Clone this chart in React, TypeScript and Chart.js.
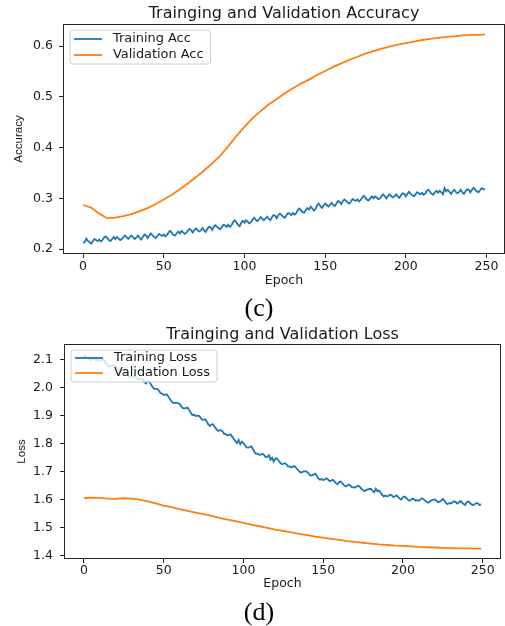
import React, { useEffect, useRef } from "react";
import { Chart, registerables } from "chart.js";

Chart.register(...registerables);

// ---------------- data ----------------
const trainAcc = [
  0.212, 0.214, 0.221, 0.216, 0.214, 0.211, 0.215, 0.220, 0.218, 0.216,
  0.219, 0.215, 0.218, 0.223, 0.225, 0.222, 0.218, 0.216, 0.220, 0.224,
  0.220, 0.224, 0.221, 0.218, 0.220, 0.224, 0.227, 0.223, 0.220, 0.224,
  0.227, 0.223, 0.220, 0.223, 0.227, 0.222, 0.219, 0.224, 0.229, 0.227,
  0.222, 0.227, 0.231, 0.227, 0.224, 0.222, 0.226, 0.230, 0.228, 0.226,
  0.229, 0.225, 0.228, 0.233, 0.236, 0.232, 0.228, 0.227, 0.231, 0.235,
  0.231, 0.236, 0.233, 0.230, 0.232, 0.237, 0.240, 0.237, 0.233, 0.238,
  0.241, 0.237, 0.235, 0.237, 0.242, 0.237, 0.234, 0.240, 0.244, 0.243,
  0.238, 0.244, 0.247, 0.244, 0.241, 0.239, 0.244, 0.248, 0.247, 0.244,
  0.248, 0.244, 0.247, 0.254, 0.257, 0.253, 0.248, 0.245, 0.252, 0.256,
  0.252, 0.257, 0.254, 0.251, 0.253, 0.258, 0.262, 0.258, 0.255, 0.259,
  0.263, 0.260, 0.257, 0.260, 0.264, 0.260, 0.257, 0.263, 0.267, 0.266,
  0.261, 0.267, 0.270, 0.267, 0.264, 0.262, 0.267, 0.271, 0.270, 0.267,
  0.271, 0.268, 0.271, 0.277, 0.280, 0.277, 0.273, 0.272, 0.277, 0.281,
  0.278, 0.284, 0.280, 0.276, 0.279, 0.286, 0.290, 0.285, 0.281, 0.286,
  0.290, 0.287, 0.284, 0.287, 0.291, 0.287, 0.285, 0.290, 0.295, 0.293,
  0.289, 0.295, 0.298, 0.295, 0.292, 0.290, 0.294, 0.299, 0.297, 0.295,
  0.298, 0.294, 0.297, 0.302, 0.305, 0.301, 0.297, 0.296, 0.300, 0.304,
  0.300, 0.304, 0.302, 0.298, 0.300, 0.305, 0.308, 0.304, 0.300, 0.305,
  0.308, 0.304, 0.302, 0.304, 0.308, 0.304, 0.301, 0.306, 0.310, 0.309,
  0.304, 0.309, 0.313, 0.309, 0.306, 0.304, 0.308, 0.312, 0.310, 0.308,
  0.311, 0.307, 0.309, 0.315, 0.317, 0.313, 0.309, 0.307, 0.312, 0.315,
  0.311, 0.315, 0.312, 0.308, 0.320, 0.314, 0.317, 0.313, 0.309, 0.314,
  0.317, 0.313, 0.310, 0.313, 0.317, 0.312, 0.309, 0.314, 0.318, 0.317,
  0.312, 0.317, 0.321, 0.317, 0.314, 0.312, 0.316, 0.320, 0.318, 0.318,
];

const trainLoss = [
  2.112, 2.114, 2.108, 2.103, 2.099, 2.102, 2.106, 2.103, 2.098, 2.100,
  2.098, 2.100, 2.102, 2.096, 2.088, 2.081, 2.076, 2.078, 2.080, 2.080,
  2.078, 2.070, 2.063, 2.062, 2.064, 2.066, 2.057, 2.047, 2.040, 2.042,
  2.037, 2.039, 2.042, 2.037, 2.030, 2.032, 2.035, 2.029, 2.020, 2.016,
  2.024, 2.023, 2.013, 2.004, 1.997, 1.997, 1.997, 1.991, 1.982, 1.980,
  1.975, 1.976, 1.977, 1.969, 1.960, 1.952, 1.946, 1.947, 1.947, 1.946,
  1.943, 1.935, 1.928, 1.926, 1.928, 1.930, 1.921, 1.911, 1.903, 1.905,
  1.900, 1.900, 1.901, 1.895, 1.886, 1.887, 1.888, 1.880, 1.870, 1.864,
  1.870, 1.870, 1.861, 1.853, 1.847, 1.848, 1.849, 1.844, 1.836, 1.835,
  1.831, 1.832, 1.834, 1.826, 1.818, 1.810, 1.803, 1.814, 1.799, 1.808,
  1.803, 1.795, 1.788, 1.787, 1.789, 1.791, 1.781, 1.771, 1.764, 1.766,
  1.761, 1.762, 1.765, 1.760, 1.753, 1.754, 1.760, 1.744, 1.751, 1.737,
  1.748, 1.748, 1.741, 1.733, 1.728, 1.729, 1.731, 1.727, 1.719, 1.720,
  1.716, 1.719, 1.721, 1.715, 1.708, 1.702, 1.697, 1.700, 1.702, 1.702,
  1.700, 1.693, 1.687, 1.688, 1.691, 1.694, 1.686, 1.677, 1.672, 1.675,
  1.671, 1.673, 1.677, 1.673, 1.667, 1.669, 1.672, 1.667, 1.659, 1.656,
  1.664, 1.666, 1.659, 1.653, 1.648, 1.651, 1.655, 1.651, 1.645, 1.646,
  1.644, 1.648, 1.651, 1.646, 1.640, 1.635, 1.631, 1.635, 1.638, 1.639,
  1.639, 1.632, 1.627, 1.640, 1.631, 1.634, 1.626, 1.618, 1.612, 1.616,
  1.612, 1.615, 1.619, 1.616, 1.610, 1.613, 1.616, 1.611, 1.604, 1.601,
  1.610, 1.612, 1.607, 1.601, 1.597, 1.601, 1.605, 1.602, 1.597, 1.599,
  1.597, 1.602, 1.606, 1.602, 1.597, 1.593, 1.590, 1.595, 1.599, 1.601,
  1.602, 1.597, 1.592, 1.594, 1.598, 1.603, 1.597, 1.589, 1.585, 1.589,
  1.587, 1.591, 1.595, 1.593, 1.587, 1.591, 1.596, 1.591, 1.585, 1.582,
  1.592, 1.595, 1.589, 1.584, 1.581, 1.585, 1.589, 1.587, 1.582, 1.584,
];

const valEpochs = [
  0, 5, 10, 15, 20, 25, 30, 35, 40, 45,
  50, 55, 60, 65, 70, 75, 80, 85, 90, 95,
  100, 105, 110, 115, 120, 125, 130, 135, 140, 145,
  150, 155, 160, 165, 170, 175, 180, 185, 190, 195,
  200, 205, 210, 215, 220, 225, 230, 235, 240, 245, 249,
];

const valAcc = [
  0.287, 0.282, 0.270, 0.261, 0.262, 0.265, 0.269, 0.275, 0.281, 0.289,
  0.298, 0.307, 0.318, 0.330, 0.342, 0.355, 0.369, 0.384, 0.403, 0.423,
  0.441, 0.458, 0.472, 0.485, 0.496, 0.507, 0.517, 0.526, 0.534, 0.543,
  0.551, 0.559, 0.566, 0.573, 0.579, 0.585, 0.590, 0.595, 0.599, 0.603,
  0.606, 0.609, 0.612, 0.614, 0.616, 0.618, 0.619, 0.621, 0.622, 0.622, 0.623,
];

const valLoss = [
  1.606, 1.608, 1.607, 1.605, 1.604, 1.606, 1.605, 1.601, 1.595, 1.588,
  1.580, 1.574, 1.567, 1.561, 1.555, 1.549, 1.543, 1.536, 1.530, 1.524,
  1.518, 1.512, 1.506, 1.500, 1.494, 1.489, 1.484, 1.479, 1.474, 1.469,
  1.465, 1.461, 1.457, 1.453, 1.450, 1.447, 1.444, 1.441, 1.439, 1.437,
  1.436, 1.434, 1.432, 1.431, 1.430, 1.429, 1.428, 1.427, 1.427, 1.426, 1.426,
];

const xTicks = [0, 50, 100, 150, 200, 250];
const accTicks = [0.2, 0.3, 0.4, 0.5, 0.6];
const lossTicks = [1.4, 1.5, 1.6, 1.7, 1.8, 1.9, 2.0, 2.1];

// ---------------- styling ----------------
const BLUE = "#1f77b4";
const ORANGE = "#ff7f0e";
const TEXT = "#1a1a1a";
const SANS = "'DejaVu Sans', 'Noto Sans', sans-serif";

const mplPlugin = {
  id: "mpl",
  afterDatasetsDraw(chart: any, _args: any, opts: any) {
    const { ctx, chartArea: a } = chart;
    ctx.save();
    // axes frame
    ctx.strokeStyle = "#262626";
    ctx.lineWidth = 1;
    ctx.strokeRect(a.left + 0.5, a.top + 0.5, a.right - a.left - 1, a.bottom - a.top - 1);

    // title
    ctx.font = `16px ${SANS}`;
    ctx.fillStyle = TEXT;
    ctx.textAlign = "center";
    ctx.textBaseline = "middle";
    ctx.fillText(opts.title, (a.left + a.right) / 2, opts.titleY);

    // legend
    ctx.font = `12.9px ${SANS}`;
    const items = chart.data.datasets.map((d: any) => ({ text: d.label, color: d.borderColor }));
    const tw = Math.max(...items.map((it: any) => ctx.measureText(it.text).width));
    const bx = a.left + opts.dx;
    const by = a.top + opts.dy;
    const bw = opts.textX + tw + opts.padR;
    const bh = opts.height;
    const r = 3;
    ctx.beginPath();
    ctx.moveTo(bx + r, by);
    ctx.lineTo(bx + bw - r, by);
    ctx.quadraticCurveTo(bx + bw, by, bx + bw, by + r);
    ctx.lineTo(bx + bw, by + bh - r);
    ctx.quadraticCurveTo(bx + bw, by + bh, bx + bw - r, by + bh);
    ctx.lineTo(bx + r, by + bh);
    ctx.quadraticCurveTo(bx, by + bh, bx, by + bh - r);
    ctx.lineTo(bx, by + r);
    ctx.quadraticCurveTo(bx, by, bx + r, by);
    ctx.closePath();
    ctx.fillStyle = "rgba(255,255,255,0.8)";
    ctx.fill();
    ctx.strokeStyle = "#d0d0d0";
    ctx.lineWidth = 1;
    ctx.stroke();

    items.forEach((it: any, i: number) => {
      const y = by + opts.firstRow + i * opts.rowGap;
      ctx.beginPath();
      ctx.strokeStyle = it.color;
      ctx.lineWidth = 1.8;
      ctx.moveTo(bx + 4, y);
      ctx.lineTo(bx + 32, y);
      ctx.stroke();
      ctx.fillStyle = TEXT;
      ctx.textAlign = "left";
      ctx.textBaseline = "middle";
      ctx.fillText(it.text, bx + opts.textX, y);
    });
    ctx.restore();
  },
};

type Props = {
  top: number;
  height: number;
  title: string;
  titleY: number;
  yLabel: string;
  trainLabel: string;
  valLabel: string;
  train: number[];
  val: number[];
  yMin: number;
  yMax: number;
  yTicks: number[];
  yAxisWidth: number;
  xAxisHeight: number;
  padRight: number;
  xTickPad: number;
  yTickPad: number;
  xTitlePad: number;
  yTitlePad: number;
  legend: { dx: number; dy: number; height: number; firstRow: number; rowGap: number };
};

function LineChart(p: Props) {
  const ref = useRef<HTMLCanvasElement>(null);
  useEffect(() => {
    const tickFont = { family: SANS, size: 12.5 };
    const gridOpts = {
      display: true,
      drawOnChartArea: false,
      drawTicks: true,
      tickLength: 4,
      color: "#262626",
      lineWidth: 1,
    };
    const chart = new Chart(ref.current as HTMLCanvasElement, {
      type: "line",
      data: {
        datasets: [
          {
            label: p.trainLabel,
            data: p.train.map((y, i) => ({ x: i, y })),
            borderColor: BLUE,
            backgroundColor: BLUE,
            borderWidth: 1.8,
            pointRadius: 0,
            tension: 0,
            fill: false,
          },
          {
            label: p.valLabel,
            data: p.val.map((y, i) => ({ x: valEpochs[i], y })),
            borderColor: ORANGE,
            backgroundColor: ORANGE,
            borderWidth: 1.8,
            pointRadius: 0,
            tension: 0,
            fill: false,
          },
        ],
      },
      options: {
        responsive: false,
        animation: false,
        devicePixelRatio: 1,
        events: [],
        layout: { padding: { left: 0, right: p.padRight, top: 24, bottom: 0 } },
        plugins: {
          legend: { display: false },
          tooltip: { enabled: false },
          title: { display: false },
          mpl: {
            title: p.title,
            titleY: p.titleY,
            dx: p.legend.dx,
            dy: p.legend.dy,
            height: p.legend.height,
            firstRow: p.legend.firstRow,
            rowGap: p.legend.rowGap,
            textX: 43,
            padR: 7,
          },
        } as any,
        scales: {
          x: {
            type: "linear",
            min: -12.45,
            max: 261.45,
            bounds: "data",
            afterBuildTicks: (s: any) => {
              s.ticks = xTicks.map((v) => ({ value: v }));
            },
            afterFit: (s: any) => {
              s.height = p.xAxisHeight;
            },
            ticks: {
              font: tickFont,
              color: TEXT,
              padding: p.xTickPad,
              maxRotation: 0,
              autoSkip: false,
              callback: (v: any) => String(v),
            },
            grid: gridOpts,
            border: { display: false },
            title: {
              display: true,
              text: "Epoch",
              font: tickFont,
              color: TEXT,
              padding: { top: 0, bottom: p.xTitlePad },
            },
          },
          y: {
            type: "linear",
            min: p.yMin,
            max: p.yMax,
            bounds: "data",
            afterBuildTicks: (s: any) => {
              s.ticks = p.yTicks.map((v) => ({ value: v }));
            },
            afterFit: (s: any) => {
              s.width = p.yAxisWidth;
            },
            ticks: {
              font: tickFont,
              color: TEXT,
              padding: p.yTickPad,
              autoSkip: false,
              callback: (v: any) => Number(v).toFixed(1),
            },
            grid: gridOpts,
            border: { display: false },
            title: {
              display: true,
              text: p.yLabel,
              font: { family: "'Liberation Sans', Arial, sans-serif", size: 11.5 },
              color: TEXT,
              padding: { top: p.yTitlePad, bottom: 0 },
            },
          },
        } as any,
      },
      plugins: [mplPlugin as any],
    });
    return () => chart.destroy();
  }, []);
  return (
    <canvas
      ref={ref}
      width={505}
      height={p.height}
      style={{ position: "absolute", left: 0, top: p.top, width: 505, height: p.height, display: "block" }}
    />
  );
}

const captionStyle = (top: number): React.CSSProperties => ({
  position: "absolute",
  left: 0,
  top,
  width: 518,
  textAlign: "center",
  fontFamily: "'Liberation Serif', 'Times New Roman', serif",
  fontSize: 26,
  lineHeight: "26px",
  color: "#000",
});

export default function App() {
  useEffect(() => {
    document.body.style.margin = "0";
    document.body.style.background = "#fff";
  }, []);
  return (
    <div style={{ position: "absolute", left: 0, top: 0, width: 505, height: 626, background: "#fff", overflow: "hidden" }}>
      <LineChart
        top={0}
        height={300}
        title="Trainging and Validation Accuracy"
        titleY={14.3}
        yLabel="Accuracy"
        trainLabel="Training Acc"
        valLabel="Validation Acc"
        train={trainAcc}
        val={valAcc}
        yMin={0.1905}
        yMax={0.6435}
        yTicks={accTicks}
        yAxisWidth={63}
        xAxisHeight={46}
        padRight={0}
        xTickPad={1}
        yTickPad={6}
        xTitlePad={11.5}
        yTitlePad={12.1}
        legend={{ dx: 7, dy: 6, height: 34, firstRow: 9, rowGap: 16 }}
      />
      <div style={captionStyle(295)}>(c)</div>
      <LineChart
        top={320}
        height={280}
        title="Trainging and Validation Loss"
        titleY={15}
        yLabel="Loss"
        trainLabel="Training Loss"
        valLabel="Validation Loss"
        train={trainLoss}
        val={valLoss}
        yMin={1.389}
        yMax={2.157}
        yTicks={lossTicks}
        yAxisWidth={64}
        xAxisHeight={41}
        padRight={4}
        xTickPad={0}
        yTickPad={7}
        xTitlePad={8.5}
        yTitlePad={15.1}
        legend={{ dx: 7, dy: 6, height: 32, firstRow: 8, rowGap: 15 }}
      />
      <div style={captionStyle(599)}>(d)</div>
    </div>
  );
}
